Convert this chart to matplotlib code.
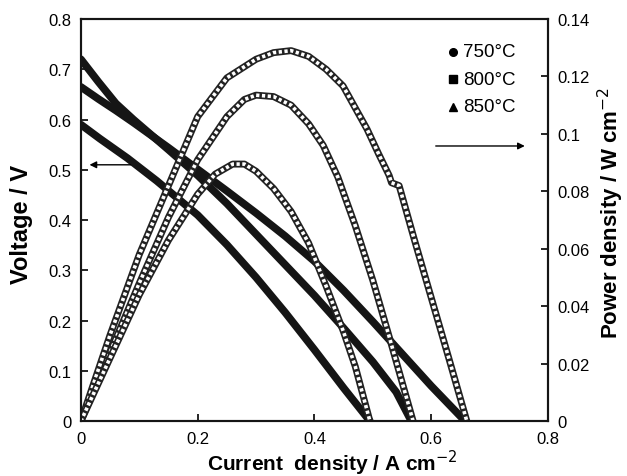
import matplotlib
matplotlib.use("Agg")
from matplotlib import pyplot as plt

plt.rcParams['font.family'] = ['Liberation Sans', 'DejaVu Sans']

# voltage curves (current density A cm-2, voltage V)
i_750 = [0, 0.01, 0.03, 0.06, 0.09, 0.12, 0.15, 0.2, 0.25, 0.3, 0.35, 0.4, 0.45, 0.5, 0.54, 0.566]
v_750 = [0.72, 0.705, 0.675, 0.632, 0.6, 0.57, 0.54, 0.489, 0.433, 0.372, 0.311, 0.25, 0.185, 0.118, 0.058, 0]
i_800 = [0, 0.03, 0.06, 0.09, 0.12, 0.15, 0.2, 0.25, 0.3, 0.35, 0.4, 0.45, 0.5, 0.55, 0.6, 0.658]
v_800 = [0.665, 0.641, 0.618, 0.594, 0.569, 0.544, 0.501, 0.458, 0.414, 0.368, 0.318, 0.26, 0.198,
         0.134, 0.07, 0]
i_850 = [0, 0.0325, 0.08, 0.13, 0.2, 0.25, 0.3, 0.35, 0.4, 0.45, 0.495]
v_850 = [0.59, 0.562, 0.523, 0.478, 0.41, 0.351, 0.286, 0.216, 0.142, 0.066, 0]

# power density curves (W cm-2)
pi_750 = [0, 0.05, 0.1, 0.15, 0.2, 0.25, 0.28, 0.3, 0.33, 0.36, 0.39, 0.415, 0.44, 0.47, 0.5, 0.53, 0.569]
p_750 = [0, 0.024, 0.048, 0.071, 0.091, 0.106, 0.112, 0.1135, 0.113, 0.11, 0.1035, 0.096, 0.085,
         0.068, 0.049, 0.028, 0]
pi_800 = [0, 0.02, 0.05, 0.1, 0.15, 0.2, 0.25, 0.3, 0.33, 0.36, 0.39, 0.42, 0.449, 0.47, 0.49,
          0.51, 0.528, 0.532, 0.545, 0.57, 0.6, 0.63, 0.661]
p_800 = [0, 0.012, 0.03, 0.058, 0.082, 0.106, 0.1195, 0.126, 0.1283, 0.129, 0.127, 0.1225, 0.1167,
         0.109, 0.1017, 0.093, 0.0855, 0.083, 0.082, 0.064, 0.043, 0.022, 0]
pi_850 = [0, 0.05, 0.1, 0.15, 0.2, 0.23, 0.26, 0.28, 0.3, 0.33, 0.36, 0.39, 0.42, 0.45, 0.47, 0.495]
p_850 = [0, 0.022, 0.044, 0.063, 0.079, 0.086, 0.0895, 0.0895, 0.087, 0.081, 0.073, 0.062, 0.047,
         0.031, 0.019, 0]

labels = ["750\u00b0C", "800\u00b0C", "850\u00b0C"]
markers = ["o", "s", "^"]

fig = plt.figure(figsize=(6.27, 4.77), dpi=100)
ax = fig.add_axes([0.129, 0.115, 0.745, 0.843])
ax2 = ax.twinx()

for xs, ys in [(i_750, v_750), (i_800, v_800), (i_850, v_850)]:
    ax.plot(xs, ys, color="#151515", lw=5.5, solid_capstyle="round", solid_joinstyle="round")

for xs, ys in [(pi_750, p_750), (pi_800, p_800), (pi_850, p_850)]:
    ax2.plot(xs, ys, color="#222222", lw=5, solid_capstyle="butt", solid_joinstyle="round")
    ax2.plot(xs, ys, color="white", lw=2.6, dashes=(0.9, 0.7))

ax.set_xlim(0, 0.8)
ax.set_ylim(0, 0.8)
ax2.set_ylim(0, 0.14)
ax.set_xticks([0, 0.2, 0.4, 0.6, 0.8])
ax.set_xticklabels(["0", "0.2", "0.4", "0.6", "0.8"])
ax.set_yticks([0, 0.1, 0.2, 0.3, 0.4, 0.5, 0.6, 0.7, 0.8])
ax.set_yticklabels(["0", "0.1", "0.2", "0.3", "0.4", "0.5", "0.6", "0.7", "0.8"])
ax2.set_yticks([0, 0.02, 0.04, 0.06, 0.08, 0.1, 0.12, 0.14])
ax2.set_yticklabels(["0", "0.02", "0.04", "0.06", "0.08", "0.1", "0.12", "0.14"])

for a in (ax, ax2):
    a.tick_params(direction="in", labelsize=12, length=5, width=1.2, top=False)
    for s in a.spines.values():
        s.set_linewidth(1.5)
        s.set_color("#151515")
ax.tick_params(axis="x", pad=7)
ax.tick_params(axis="y", pad=7)
ax2.tick_params(axis="y", pad=7)

fig.text(0.53, 0.012, "Current  density / A cm$^{\u22122}$", fontsize=15, fontweight="bold",
         ha="center", va="baseline")
fig.text(0.035, 0.53, "Voltage / V", fontsize=17, fontweight="bold",
         rotation=90, ha="center", va="center")
fig.text(0.975, 0.553, "Power density / W cm$^{\u22122}$", fontsize=16, fontweight="bold",
         rotation=90, ha="center", va="center")

# arrows
ax.annotate("", xy=(0.01, 0.51), xytext=(0.09, 0.51),
            arrowprops=dict(arrowstyle="-|>", color="black", lw=1, mutation_scale=10))
ax2.annotate("", xy=(0.765, 0.0958), xytext=(0.603, 0.0958),
             arrowprops=dict(arrowstyle="-|>", color="black", lw=1, mutation_scale=10))

for k, (lab, m) in enumerate(zip(labels, markers)):
    ax.plot(0.638, 0.735 - k * 0.055, marker=m, color="black", ms=5.5, ls="none")
    ax.text(0.655, 0.735 - k * 0.055, lab, fontsize=13.5, va="center")

fig.savefig("out.png", dpi=100)
